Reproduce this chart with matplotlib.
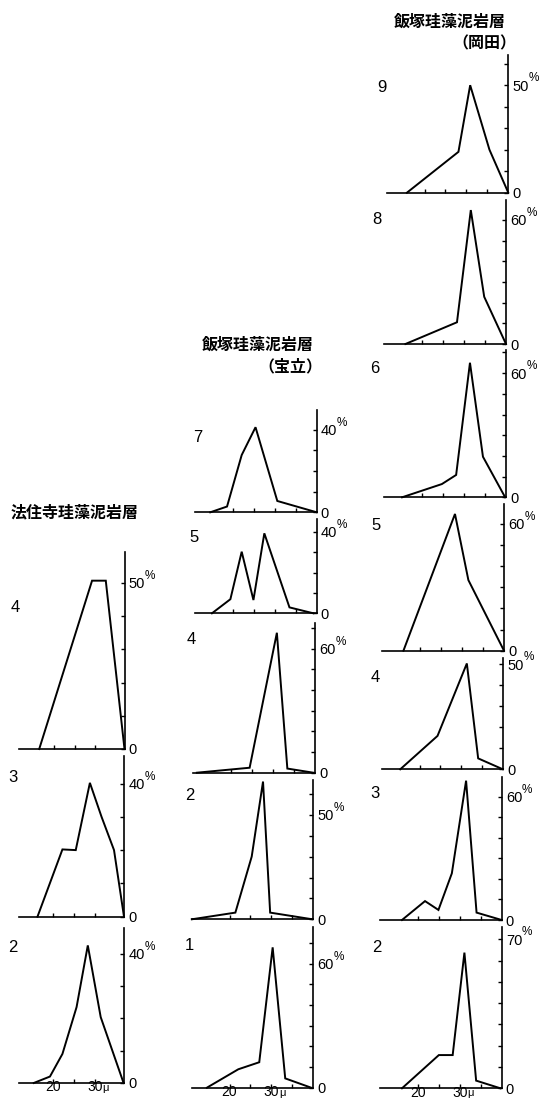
import matplotlib
matplotlib.use("Agg")
import matplotlib.pyplot as plt
from matplotlib.transforms import blended_transform_factory

# ---------------- data (size in microns -> frequency %) ----------------
# 法住寺珪藻泥岩層
hojuji_4_x = [16.5, 29.2, 32.5, 37.0]
hojuji_4_y = [0, 50.7, 50.7, 0]
hojuji_3_x = [16.2, 22.2, 25.4, 28.8, 31.6, 34.6, 37.0]
hojuji_3_y = [0, 20.2, 20.0, 40.2, 30.0, 20.0, 0]
hojuji_2_x = [15.3, 19.2, 22.2, 25.6, 28.3, 31.4, 36.9]
hojuji_2_y = [0, 2.0, 9.0, 23.5, 42.6, 20.4, 0]

# 飯塚珪藻泥岩層（宝立）
horyu_7_x = [14.6, 18.6, 22.1, 25.4, 30.6, 40.0]
horyu_7_y = [0, 2.8, 27.8, 41.3, 5.5, 0]
horyu_5_x = [15.0, 19.4, 22.1, 24.9, 27.5, 33.5, 39.2]
horyu_5_y = [0, 6.9, 30.2, 6.5, 39.2, 2.9, 0]
horyu_4_x = [11.8, 18.6, 24.4, 30.9, 33.4, 39.6]
horyu_4_y = [0, 1.3, 2.4, 67.6, 2.0, 0]
horyu_2_x = [11.0, 21.4, 25.3, 28.0, 29.7, 39.8]
horyu_2_y = [0, 3.2, 30.0, 65.9, 3.2, 0]
horyu_1_x = [14.6, 22.1, 27.1, 30.3, 33.3, 39.5]
horyu_1_y = [0, 8.9, 12.3, 67.8, 4.5, 0]

# 飯塚珪藻泥岩層（岡田）
okada_9_x = [15.8, 28.1, 30.9, 35.5, 40.0]
okada_9_y = [0, 19.0, 50.0, 20.0, 0]
okada_8_x = [16.0, 28.3, 31.6, 34.8, 40.0]
okada_8_y = [0, 10.5, 64.7, 22.8, 0]
okada_6_x = [15.2, 24.7, 28.1, 31.4, 34.5, 39.8]
okada_6_y = [0, 6.4, 10.8, 65.0, 19.6, 0]
okada_5_x = [16.0, 28.3, 31.5, 40.0]
okada_5_y = [0, 64.5, 33.3, 0]
okada_4_x = [15.4, 24.3, 31.3, 34.0, 39.9]
okada_4_y = [0, 15.9, 50.4, 5.2, 0]
okada_3_x = [16.2, 21.7, 24.9, 28.1, 31.5, 34.0, 40.0]
okada_3_y = [0, 9.2, 4.9, 22.7, 67.8, 3.6, 0]
okada_2_x = [16.2, 25.0, 28.3, 31.1, 33.9, 39.7]
okada_2_y = [0, 15.6, 15.6, 63.7, 3.6, 0]

sample_labels = ["4", "3", "2", "7", "5", "4", "2", "1", "9", "8", "6", "5", "4", "3", "2"]
pct_labels = [50, 40, 40, 40, 40, 60, 50, 60, 50, 60, 60, 60, 50, 60, 70]
x_tick_labels = {20: "20", 30: "30"}
titles = ["法住寺珪藻泥岩層", "飯塚珪藻泥岩層", "（宝立）", "飯塚珪藻泥岩層", "（岡田）"]

series = [
    (hojuji_4_x, hojuji_4_y), (hojuji_3_x, hojuji_3_y), (hojuji_2_x, hojuji_2_y),
    (horyu_7_x, horyu_7_y), (horyu_5_x, horyu_5_y), (horyu_4_x, horyu_4_y),
    (horyu_2_x, horyu_2_y), (horyu_1_x, horyu_1_y),
    (okada_9_x, okada_9_y), (okada_8_x, okada_8_y), (okada_6_x, okada_6_y),
    (okada_5_x, okada_5_y), (okada_4_x, okada_4_y), (okada_3_x, okada_3_y),
    (okada_2_x, okada_2_y),
]

# ---------------- layout (pixels) ----------------
W, H = 540, 1098
fig = plt.figure(figsize=(W / 100, H / 100), dpi=100)
fig.patch.set_facecolor("white")

# column: xmin, xmax, px per micron, x ticks
cols = {
    "L": (11.7, 37.0, 4.16, [20, 25, 30]),
    "M": (11.0, 40.0, 4.19, [20, 25, 30, 35]),
    "R": (11.0, 40.0, 4.19, [20, 25, 30, 35]),
}
# per panel: column, axis x, baseline y, top y, px per %, number position, bottom?
layout = [
    ("L", 124.5, 749.0, 552.0, 3.32, (15, 607), False),
    ("L", 124.0, 916.7, 756.0, 3.33, (13, 778), False),
    ("L", 124.0, 1083.0, 928.0, 3.23, (13, 948), True),
    ("M", 316.7, 512.3, 410.0, 2.06, (198, 437), False),
    ("M", 316.7, 613.3, 519.0, 2.04, (194, 538), False),
    ("M", 315.0, 772.7, 623.0, 2.07, (191, 640), False),
    ("M", 313.3, 919.3, 780.0, 2.09, (190, 795), False),
    ("M", 313.3, 1087.7, 927.0, 2.07, (189, 946), True),
    ("R", 508.3, 192.7, 55.0, 2.15, (382, 88), False),
    ("R", 506.0, 344.0, 200.0, 2.07, (377, 219), False),
    ("R", 506.0, 497.3, 350.0, 2.07, (375, 368), False),
    ("R", 504.0, 650.7, 504.0, 2.12, (376, 525), False),
    ("R", 503.3, 769.3, 658.0, 2.10, (375, 677), False),
    ("R", 501.7, 920.0, 777.0, 2.055, (375, 793), False),
    ("R", 501.7, 1088.3, 927.0, 2.13, (377, 948), True),
]

num_font = ["Liberation Sans", "DejaVu Sans"]
for (xs, ys), lab, pl, lay in zip(series, sample_labels, pct_labels, layout):
    col, ax_x, base_y, top_y, ppp, num_xy, bottom = lay
    xmin, xmax, ppm, xticks = cols[col]
    width = (xmax - xmin) * ppm
    left = ax_x - width
    ax = fig.add_axes([left / W, 1 - base_y / H, width / W, (base_y - top_y) / H])
    ymax = (base_y - top_y) / ppp
    ax.set_xlim(xmin, xmax)
    ax.set_ylim(0, ymax)
    ax.patch.set_visible(False)
    ax.plot(xs, ys, color="black", lw=1.4, clip_on=False, solid_joinstyle="miter")
    ax.spines["top"].set_visible(False)
    ax.spines["left"].set_visible(False)
    ax.spines["bottom"].set_linewidth(1.2)
    ax.spines["right"].set_linewidth(1.2)
    ax.yaxis.tick_right()
    yt = list(range(0, int(ymax) + 1, 10))
    ax.set_yticks(yt)
    ax.set_yticklabels(["0" if v == 0 else (str(v) if v == pl else "") for v in yt],
                       fontsize=10.5, family=num_font)
    ax.tick_params(axis="y", direction="in", length=3, width=1, pad=3)
    ax.set_xticks(xticks)
    if bottom:
        ax.set_xticklabels([x_tick_labels.get(v, "") for v in xticks], fontsize=10,
                           family=num_font)
        ax.tick_params(axis="x", direction="in", length=3, width=1, pad=-2)
        tr30 = blended_transform_factory(ax.transData, ax.transAxes)
        ax.annotate("μ", xy=(30, 0), xycoords=tr30, xytext=(5.5, -3.5),
                    textcoords="offset points", fontsize=8, ha="left", va="center",
                    family=num_font)
    else:
        ax.set_xticklabels([])
        ax.tick_params(axis="x", direction="in", length=3, width=1, pad=1)
    tr = blended_transform_factory(ax.transAxes, ax.transData)
    ax.annotate("%", xy=(1, pl), xycoords=tr, xytext=(14.5, 5), textcoords="offset points",
                fontsize=8.5, ha="left", va="center", family=num_font)
    fig.text(num_xy[0] / W, 1 - num_xy[1] / H, lab, fontsize=12, family=num_font,
             ha="center", va="center")

cjk = ["Noto Sans CJK JP", "DejaVu Sans"]
title_pos = [(75, 512), (258, 345), (290, 366), (450, 22), (484, 43)]
for t, (tx, ty) in zip(titles, title_pos):
    fig.text(tx / W, 1 - ty / H, t, fontsize=11.5, family=cjk, weight="bold",
             ha="center", va="center")

fig.savefig("out.png", dpi=100, facecolor="white")
